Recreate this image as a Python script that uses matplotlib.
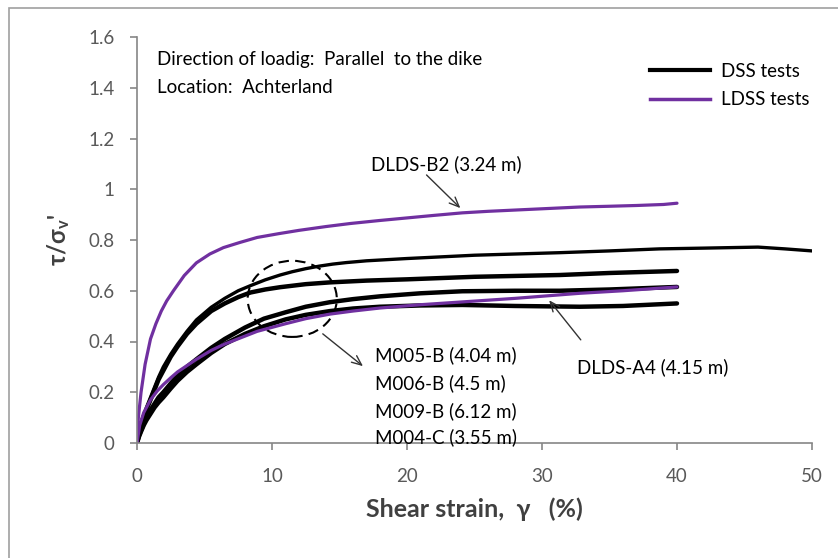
import matplotlib.pyplot as plt
from matplotlib.patches import Ellipse, Rectangle
from matplotlib.lines import Line2D

plt.rcParams['font.family'] = ['Lato', 'DejaVu Sans']
plt.rcParams['mathtext.default'] = 'regular'

# LDSS tests (purple)
b2_strain = [0, 0.1, 0.3, 0.6, 1.0, 1.4, 1.8, 2.2, 2.7, 3.5, 4.4, 5.4, 6.4, 7.6, 8.9, 10.5, 12, 14, 15.8, 18, 20, 22, 24.1, 26, 28, 30, 32.8, 35, 37, 39, 40]
b2_ratio = [0, 0.1, 0.2, 0.31, 0.41, 0.47, 0.52, 0.56, 0.60, 0.66, 0.71, 0.745, 0.77, 0.79, 0.81, 0.825, 0.838, 0.853, 0.865, 0.877, 0.887, 0.897, 0.907, 0.913, 0.918, 0.923, 0.93, 0.933, 0.936, 0.94, 0.945]

a4_strain = [0, 0.2, 0.5, 1.0, 1.5, 1.95, 2.5, 3, 3.7, 4.4, 5.5, 6.5, 7.7, 8.9, 11, 12.5, 14.3, 16, 18, 21, 24.1, 28, 32.8, 36, 40]
a4_ratio = [0, 0.07, 0.12, 0.17, 0.205, 0.23, 0.257, 0.28, 0.305, 0.33, 0.365, 0.39, 0.415, 0.44, 0.47, 0.49, 0.508, 0.52, 0.532, 0.545, 0.556, 0.57, 0.59, 0.60, 0.615]

# DSS tests (black)
m1_strain = [0, 0.15, 0.3, 0.5, 0.7, 1.0, 1.3, 1.6, 1.95, 2.5, 3, 3.7, 4.4, 5.5, 6.5, 7.5, 8.4, 9.5, 10.6, 11.5, 12.5, 13.5, 14.5, 15.5, 17, 20, 25, 31.3, 35, 38.7, 42, 46, 48, 50]
m1_ratio = [0, 0.05, 0.08, 0.11, 0.14, 0.18, 0.22, 0.26, 0.30, 0.35, 0.39, 0.44, 0.485, 0.535, 0.57, 0.60, 0.62, 0.643, 0.662, 0.675, 0.687, 0.697, 0.705, 0.711, 0.718, 0.727, 0.74, 0.75, 0.757, 0.765, 0.768, 0.772, 0.765, 0.757]

m2_strain = [0, 0.15, 0.3, 0.5, 0.7, 1.0, 1.3, 1.6, 2, 2.5, 3, 3.7, 4.4, 5.5, 6.5, 7.5, 8.4, 9.5, 10.6, 12.5, 14.3, 17, 20, 25, 31.3, 35, 40]
m2_ratio = [0, 0.045, 0.075, 0.105, 0.13, 0.17, 0.21, 0.25, 0.29, 0.34, 0.38, 0.43, 0.47, 0.52, 0.55, 0.575, 0.593, 0.605, 0.614, 0.626, 0.633, 0.64, 0.645, 0.655, 0.662, 0.67, 0.678]

m3_strain = [0, 0.15, 0.3, 0.5, 0.7, 1.0, 1.3, 1.6, 1.95, 2.5, 3, 3.7, 4.4, 5.5, 6.5, 8, 9.4, 11, 12.5, 14.3, 16, 18, 21, 24.1, 28, 31.3, 35, 40]
m3_ratio = [0, 0.03, 0.05, 0.075, 0.1, 0.13, 0.155, 0.18, 0.2, 0.235, 0.265, 0.30, 0.33, 0.375, 0.41, 0.455, 0.49, 0.515, 0.537, 0.555, 0.567, 0.578, 0.59, 0.598, 0.60, 0.60, 0.605, 0.615]

m4_strain = [0, 0.15, 0.3, 0.5, 0.7, 1.0, 1.3, 1.6, 1.95, 2.5, 3, 3.7, 4.4, 5.5, 6.5, 8, 9.4, 11, 12.5, 14.3, 16, 18, 21, 24.1, 28, 32.8, 36, 40]
m4_ratio = [0, 0.025, 0.045, 0.07, 0.09, 0.115, 0.14, 0.16, 0.18, 0.215, 0.245, 0.28, 0.31, 0.355, 0.39, 0.43, 0.46, 0.487, 0.505, 0.52, 0.53, 0.537, 0.542, 0.544, 0.54, 0.537, 0.54, 0.55]

dss_labels = ['M005-B (4.04 m)', 'M006-B (4.5 m)', 'M009-B (6.12 m)', 'M004-C (3.55 m)']
dss_label_y = [0.347, 0.234, 0.127, 0.022]

purple = '#7030A0'
grey = '#868686'

fig = plt.figure(figsize=(8.38, 5.58), dpi=100)
fig.patches.append(Rectangle((9/838, -0.1), 1.2, 1.1 - 8/558, transform=fig.transFigure,
                             fill=False, edgecolor='#a0a0a0', lw=1.2))
ax = fig.add_axes([137/838, 1 - 443/558, 675/838, 406/558])

ax.plot(m1_strain, m1_ratio, color='black', lw=2.4, solid_capstyle='round')
ax.plot(m2_strain, m2_ratio, color='black', lw=3.2, solid_capstyle='round')
ax.plot(m3_strain, m3_ratio, color='black', lw=3.2, solid_capstyle='round')
ax.plot(m4_strain, m4_ratio, color='black', lw=3.2, solid_capstyle='round')
ax.plot(b2_strain, b2_ratio, color=purple, lw=2.3, solid_capstyle='round')
ax.plot(a4_strain, a4_ratio, color=purple, lw=2.3, solid_capstyle='round')

ax.set_xlim(0, 50)
ax.set_ylim(0, 1.6)
ax.set_xticks([0, 10, 20, 30, 40, 50])
ax.set_yticks([0, 0.2, 0.4, 0.6, 0.8, 1, 1.2, 1.4, 1.6])
ax.set_yticklabels(['0', '0.2', '0.4', '0.6', '0.8', '1', '1.2', '1.4', '1.6'])
for s in ['top', 'right']:
    ax.spines[s].set_visible(False)
for s in ['left', 'bottom']:
    ax.spines[s].set_color(grey)
    ax.spines[s].set_linewidth(1.2)
ax.tick_params(direction='out', length=5, width=1.2, color=grey, labelcolor='#595959', labelsize=13.5)
ax.tick_params(axis='x', pad=13)
ax.tick_params(axis='y', pad=11)

ax.set_xlabel('Shear strain,  γ   (%)', fontsize=18, fontweight='bold', color='#404040', labelpad=9)
ax.set_ylabel(r"$\tau/\sigma_v$'", fontsize=17, fontweight='bold', color='#404040', labelpad=12)

fs = 13.5
ax.text(1.5, 1.51, 'Direction of loadig:  Parallel  to the dike', fontsize=fs, va='center')
ax.text(1.5, 1.40, 'Location:  Achterland', fontsize=fs, va='center')

ax.text(17.3, 1.10, 'DLDS-B2 (3.24 m)', fontsize=fs, va='center')
ax.annotate('', xy=(24.1, 0.918), xytext=(21.3, 1.064),
            arrowprops=dict(arrowstyle='->,head_length=0.7,head_width=0.3', lw=1, color='#333333'))

ax.add_patch(Ellipse((11.5, 0.568), 6.6, 0.30, fill=False, ls=(0, (5, 3)), lw=1.5, color='black'))
ax.annotate('', xy=(16.9, 0.296), xytext=(13.6, 0.437),
            arrowprops=dict(arrowstyle='->,head_length=0.7,head_width=0.3', lw=1, color='#333333'))
for lab, yy in zip(dss_labels, dss_label_y):
    ax.text(17.6, yy, lab, fontsize=fs, va='center')

ax.text(32.6, 0.30, 'DLDS-A4 (4.15 m)', fontsize=fs, va='center')
ax.annotate('', xy=(30.4, 0.571), xytext=(33.0, 0.398),
            arrowprops=dict(arrowstyle='->,head_length=0.7,head_width=0.3', lw=1, color='#333333'))

handles = [Line2D([], [], color='black', lw=3), Line2D([], [], color=purple, lw=2.5)]
ax.legend(handles, ['DSS tests', 'LDSS tests'], loc='upper left', bbox_to_anchor=(633/838, 1 - 46/558),
          bbox_transform=fig.transFigure, frameon=False, fontsize=fs, handlelength=3.2,
          labelspacing=0.6, handletextpad=0.6)

fig.savefig('out.png', dpi=100)
